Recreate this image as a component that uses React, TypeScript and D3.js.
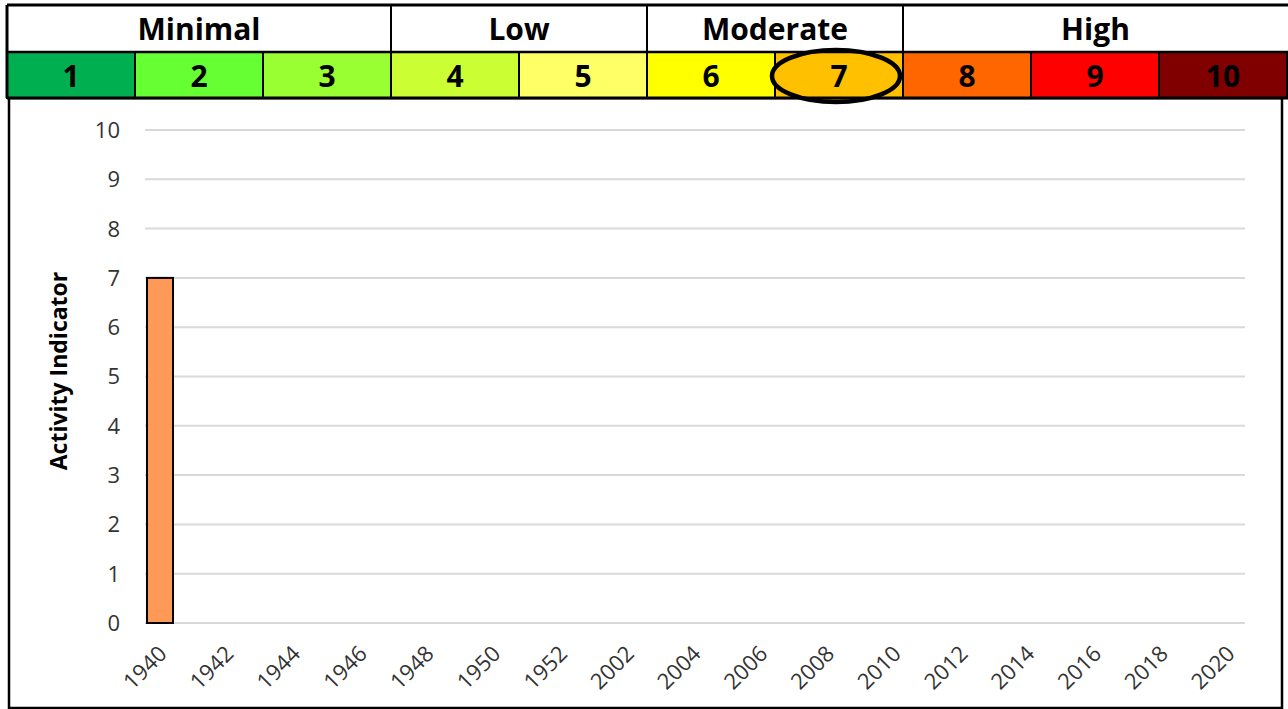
import React from "react";
import * as d3 from "d3";

// ---- data ----
const years = ["1940","1942","1944","1946","1948","1950","1952","2002","2004","2006","2008","2010","2012","2014","2016","2018","2020"];
const activity: (number | null)[] = [7, null, null, null, null, null, null, null, null, null, null, null, null, null, null, null, null];
const yTicks = [0, 1, 2, 3, 4, 5, 6, 7, 8, 9, 10];
const levels = ["1","2","3","4","5","6","7","8","9","10"];
const levelColors = ["#00B050","#66FF33","#99FF33","#CCFF33","#FFFF66","#FFFF00","#FFC000","#FF6600","#FF0000","#800000"];
const groupNames = ["Minimal","Low","Moderate","High"];
const groupSpans = [3, 2, 2, 3];
const currentLevel = "7";
const yTitle = "Activity Indicator";

const W = 1288, H = 709;
const FONT = "'Open Sans', 'Liberation Sans', sans-serif";

export default function App() {
  // header scales
  const hx = d3.scaleBand<string>().domain(levels).range([7, 1287]).padding(0);
  const row1 = [5, 52];
  const row2 = [52, 98];

  let idx = 0;
  const groups = groupNames.map((name, i) => {
    const first = levels[idx];
    const last = levels[idx + groupSpans[i] - 1];
    idx += groupSpans[i];
    const x0 = hx(first)!;
    const x1 = i === groupNames.length - 1 ? W : hx(last)! + hx.bandwidth();
    return { name, x0, x1 };
  });

  // plot scales
  const plotLeft = 145, plotRight = 1245;
  const x = d3.scaleBand<string>().domain(years).range([plotLeft, plotRight]).padding(0);
  const xLabel = d3.scalePoint<string>().domain(years).range([157, 1225]);
  const y = d3.scaleLinear().domain([0, 10]).range([623, 130]);
  const barW = 26;
  const barInset = 2;

  const hlX = hx(currentLevel)! + hx.bandwidth() / 2 - 3;
  const hlY = (row2[0] + row2[1]) / 2;

  return (
    <svg width={W} height={H} style={{ position: "absolute", left: 0, top: 0, background: "#fff" }}
      fontFamily={FONT}>
      {/* chart frame */}
      <rect x={9} y={98} width={1273} height={610} fill="#fff" stroke="#000" strokeWidth={2.5} />

      {/* gridlines */}
      {yTicks.map(t => (
        <line key={t} x1={plotLeft} x2={plotRight} y1={y(t)} y2={y(t)} stroke="#D9D9D9" strokeWidth={2} />
      ))}
      {/* y tick labels */}
      {yTicks.map(t => (
        <text key={t} x={120} y={y(t)} dy="0.36em" textAnchor="end" fontSize={22} fill="#333">{t}</text>
      ))}
      {/* y title */}
      <text transform={`translate(${67},${371}) rotate(-90)`} textAnchor="middle" fontSize={23} fontWeight="bold" fill="#000">{yTitle}</text>

      {/* bars */}
      {years.map((yr, i) => activity[i] == null ? null : (
        <rect key={yr} x={x(yr)! + barInset} y={y(activity[i]!)} width={barW} height={y(0) - y(activity[i]!)}
          fill="#FF9957" stroke="#000" strokeWidth={2} />
      ))}

      {/* x labels */}
      {years.map(yr => (
        <text key={yr} transform={`translate(${xLabel(yr)},${644}) rotate(-45)`} textAnchor="end" dy="0.72em"
          fontSize={22} fill="#333">{yr}</text>
      ))}

      {/* header row 1 */}
      <rect x={7} y={row1[0]} width={W - 7} height={row1[1] - row1[0]} fill="#fff" />
      {groups.map(g => (
        <g key={g.name}>
          <text x={(g.x0 + g.x1) / 2} y={40} textAnchor="middle" fontSize={30} fontWeight="bold" fill="#000">{g.name}</text>
          <line x1={g.x0} x2={g.x0} y1={row1[0]} y2={row1[1]} stroke="#000" strokeWidth={2} />
        </g>
      ))}
      {/* header row 2 */}
      {levels.map((lv, i) => (
        <g key={lv}>
          <rect x={hx(lv)!} y={row2[0]} width={hx.bandwidth()} height={row2[1] - row2[0]} fill={levelColors[i]} stroke="#000" strokeWidth={2} />
        </g>
      ))}
      {/* highlight ellipse */}
      <ellipse cx={hlX} cy={hlY + 1} rx={64} ry={26} fill={levelColors[levels.indexOf(currentLevel)]} stroke="#000" strokeWidth={4.5} />
      {levels.map(lv => (
        <text key={lv} x={hx(lv)! + hx.bandwidth() / 2} y={87} textAnchor="middle" fontSize={30} fontWeight="bold" fill="#000">{lv}</text>
      ))}
      {/* header borders */}
      <line x1={7} x2={W} y1={row1[0]} y2={row1[0]} stroke="#000" strokeWidth={3} />
      <line x1={7} x2={W} y1={row1[1]} y2={row1[1]} stroke="#000" strokeWidth={2.5} />
      <line x1={7} x2={W} y1={row2[1]} y2={row2[1]} stroke="#000" strokeWidth={3} />
      <line x1={7} x2={7} y1={row1[0]} y2={row2[1]} stroke="#000" strokeWidth={3} />
    </svg>
  );
}
